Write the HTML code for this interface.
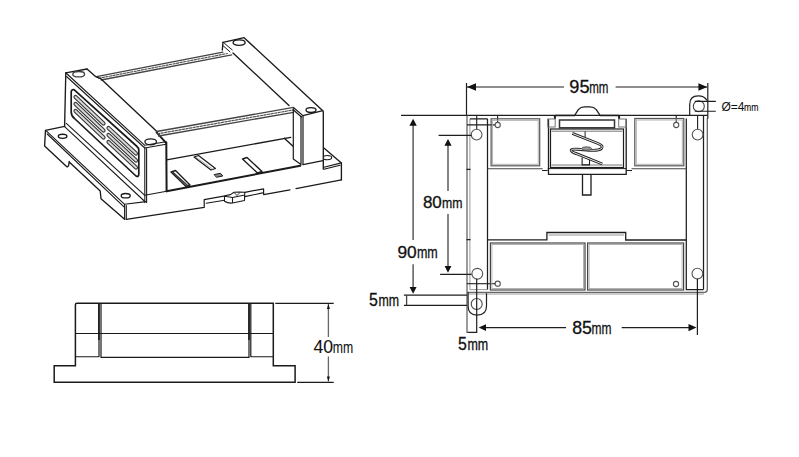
<!DOCTYPE html>
<html><head><meta charset="utf-8">
<style>
html,body{margin:0;padding:0;background:#fff;}
body{width:799px;height:457px;overflow:hidden;}
svg{display:block;}
text{font-family:"Liberation Sans",sans-serif;fill:#111;stroke:#111;stroke-width:0.3;}
</style></head>
<body>
<svg width="799" height="457" viewBox="0 0 799 457">
<rect width="799" height="457" fill="#fff"/>

<!-- ============ ISOMETRIC VIEW ============ -->
<g id="iso" fill="none" stroke="#1a1a1a" stroke-width="1.35" stroke-linejoin="round" stroke-linecap="round">
  <!-- back rail -->
  <path d="M96.5 76.6 L222.9 52.2 M101.1 80 L231.7 54.8" stroke="#444" stroke-width="1.3"/>
  <path d="M98.8 78.3 L227.3 53.5" stroke-width="1.2" stroke-dasharray="2.2 1.4" stroke="#555"/>
  <!-- cap top back edge + lid left edge -->
  <path d="M87 69 L95.8 76.7 L101.1 78.9 L156.6 131.3"/>
  <path d="M156.6 132.3 L165.8 142.6" stroke-width="2"/>
  <!-- front rail -->
  <path d="M156.6 131.5 L293.5 107.4 M158.6 136 L293.5 112.3" stroke="#444" stroke-width="1.3"/>
  <path d="M157.6 133.8 L293.5 109.9" stroke-width="1.2" stroke-dasharray="2.2 1.4" stroke="#555"/>
  <!-- front wall bottom / floor back -->
  <path d="M166.6 159.8 L290.7 137.4 M284.4 138.2 L292.7 146"/>
  <!-- floor front -->
  <path d="M166.6 191.3 L300.3 165.7" stroke-width="2"/>
  <!-- slots in floor -->
  <path d="M194 157 L198.5 155.5 L215.5 168.5 L211 170 Z" stroke-width="1.2"/>
  <path d="M196.5 157.5 L212.5 169" stroke-width="0.8" stroke="#999"/>
  <path d="M242.5 159 L247 157.5 L262 171.5 L257.5 173 Z"/>
  <path d="M171 172 L175.5 170.5 L190 185 L186 186.5 Z"/>
  <path d="M173 172.5 L187.5 185.5" stroke-width="1.6" stroke="#333"/>
  <path d="M214.5 174.5 L220.5 173.3 L222.8 176 L216.8 177.2 Z" fill="#888" stroke-width="1"/>

  <!-- back cap (right) -->
  <path d="M223 42.3 L244.1 37.7 L322.8 110.7 L323.3 111.7 L323.3 169"/>
  <path d="M223 42.3 L222.3 50"/>
  <path d="M224.5 43.4 L232.2 49.9 M222.8 45.5 L230 51.8" stroke-width="1"/>
  <path d="M233 53 L289 105.5"/>
  <path d="M294 108 L303 115.6 L322.8 110.7 M293.5 110 L301.5 117" stroke-width="1.2"/>
  <path d="M293.3 108.7 L293.3 159 L301 164.6 M303 115.6 L303 164.6 M301 116 L301 164" stroke-width="1.2"/>
  <path d="M303 164.6 L323 160.7" stroke-width="1.2"/>
  <ellipse cx="239.1" cy="42.6" rx="6" ry="2.7"/>
  <ellipse cx="311" cy="110" rx="5" ry="2.4"/>

  <!-- base plate right end -->
  <path d="M323.9 148.1 L341.4 162.9 L341.4 179.9"/>
  <path d="M323.9 167.3 L341.4 162.9 M323.9 169.2 L340 165.3" stroke-width="1.1"/>
  <defs><clipPath id="hc"><rect x="324" y="150" width="20" height="15"/></clipPath></defs>
  <ellipse cx="327.4" cy="157.6" rx="4.3" ry="2.1" stroke-width="1.1" clip-path="url(#hc)"/>
  <!-- plate bottom edge -->
  <path d="M126.3 219.3 L204.2 207.4 L204.2 199.6 L223.7 196.2 M244.8 192.3 L263.6 188.8 L263.6 194.6 L290 189.8 M296 188.6 L341.4 179.9" stroke-width="1.2"/>
  <!-- DIN clip block -->
  <path d="M206.2 203.2 L224.5 200.2 M244.8 196.6 L262.6 192.9" stroke-width="1.1"/>
  <path d="M224.5 195.8 L224.5 201.2 Q228 203.5 232.5 203 L244.5 200.5 L244.8 192.3 M224.5 195.8 L230.5 194.6 L234 192.2 L239 192 L244.8 192.3 M224.5 196.2 L232.5 197.5 L244.8 195 M232.5 197.5 L232.5 203" stroke-width="1.1"/>
  <path d="M234.5 193 L237 195.5 L239.5 193" stroke-width="0.9"/>

  <!-- front cap (left) -->
  <path d="M65.8 72.8 L87 69"/>
  <path d="M166.3 142.6 L166.6 191.3" stroke-width="2"/>
  <path d="M66 73 L144.8 145.3 L166 141.8 M66.5 76.5 L144.8 148 L166 144.3" stroke-width="1.1"/>
  <path d="M65.8 72.8 L64.6 126.6"/>
  <path d="M144.8 147 L144.8 202.6 M146.6 148.5 L146.6 202.6" stroke-width="1.1"/>
  <ellipse cx="150.7" cy="141.8" rx="5.8" ry="3"/>
  <ellipse cx="78.7" cy="74.2" rx="5.9" ry="2.7" stroke="#444"/>
  <!-- vent panel -->
  <path d="M74 89.7 Q71.2 89.4 71.2 92.2 L71.2 112 Q71.2 116 74.5 118.5 L136 176 Q138.8 177.5 138.8 174 L138.8 150 Q138.8 148 136.5 146 Z" stroke-width="1.7"/>
  <!-- vent slots -->
  <g stroke-width="4.2" stroke="#333">
    <path d="M75.5 97 L103.5 123.5 M75.5 104 L103.5 130.5 M75.5 111 L103.5 137.5"/>
    <path d="M108.5 128 L136 153.5 M108.5 135 L136 160.5 M108.5 142 L136 167.5"/>
  </g>
  <g stroke-width="2" stroke="#d8d8d8">
    <path d="M75.5 97 L103.5 123.5 M75.5 104 L103.5 130.5 M75.5 111 L103.5 137.5"/>
    <path d="M108.5 128 L136 153.5 M108.5 135 L136 160.5 M108.5 142 L136 167.5"/>
  </g>
  <!-- vent face lower lines -->
  <path d="M64.6 126.6 L144.8 201.5 M66.3 123.3 L144.8 195.3 L166.6 191.3" stroke-width="1.1"/>

  <!-- base plate left end -->
  <path d="M45.5 130.3 L64.6 126.3 M45.5 130.3 L44.6 146 L66 166 Q67.5 167.8 68.6 165.5 L69.2 161.5 M69.5 162.3 L100.2 191 L101 198.8 L124.6 219.3"/>
  <path d="M46.5 131.2 L124.6 204.3 L146 201.6 M47.2 134 L124 206.8" stroke-width="1.1"/>
  <path d="M124.6 204.3 L124.6 219.3 M126.3 205.5 L126.3 219" stroke-width="1.1"/>
  <ellipse cx="62.6" cy="136.3" rx="4.3" ry="2.1"/>
  <ellipse cx="125.7" cy="195.7" rx="4.5" ry="2.2"/>
</g>

<!-- ============ SIDE VIEW ============ -->
<g id="side" fill="none" stroke="#1a1a1a" stroke-width="1.5">
  <path d="M54.2 365.7 L75.4 365.7 L75.4 305 Q75.4 303.3 77 303.3 L273.3 303.3 L273.3 365.7 L295.1 365.7 L295.1 382.3 L54.2 382.3 Z"/>
  <path d="M98.9 303.3 L98.9 340 M249 303.3 L249 340" stroke-width="1.6"/>
  <path d="M101 303.3 L101 357.4 L249 357.4 L249 303.3 M250.8 303.3 L250.8 357 M99 303.3 L99 357" stroke-width="1.2"/>
  <path d="M75.4 356.8 L99 356.8 M250.8 356.8 L273.3 356.8" stroke-width="1.1"/>
  <path d="M75.4 333.5 L273.3 333.5" stroke-width="1.1"/>
  <path d="M275.3 303.3 L333.7 303.3 M297.2 382.3 L333.7 382.3" stroke-width="1.2"/>
  <path d="M328.4 304 L328.4 337 M328.4 356.5 L328.4 381.5" stroke="#666" stroke-width="1.3"/>
  <path d="M328.4 304 L326.9 309 L329.9 309 Z M328.4 381.6 L326.9 376.6 L329.9 376.6 Z" fill="#111" stroke="none"/>
</g>
<text x="313.4" y="352.6" font-size="17.6" style="stroke-width:0.1">40</text>
<text transform="translate(332.7 352.6) scale(0.755 1)" font-size="16.2" style="stroke-width:0.1">mm</text>

<!-- ============ FRONT VIEW ============ -->
<g id="front" fill="none" stroke="#1e1e1e" stroke-width="1.2">
  <!-- body outline -->
  <path d="M401 115.4 L707.8 115.4" stroke-width="1.4"/>
  <path d="M467 115.4 L467 333 M707.3 118 L707.3 289.5 Q707.3 292.3 704.5 292.3 L467 292.3" stroke="#666" stroke-width="1.3"/>
  <path d="M469.9 119 L469.9 289.6 L487.5 289.6 M467 294 L704 294" stroke="#999" stroke-width="1"/>
  <path d="M487.5 118.8 L487.5 289.6 M686.3 118.5 L686.3 289.5 L703.5 289.5 M703.5 115.4 L703.5 289.5 M469.9 118.8 L487.5 118.8" stroke-width="1.25"/>
  <path d="M467 124.9 L495 124.9 M476.7 115.4 L476.7 129.2 M497.6 115.4 L497.6 122.3 M676.2 115.4 L676.2 122.3 M697.6 115.4 L697.6 129.2" stroke-width="1.1"/>
  <g stroke="#555" stroke-width="1.1">
  <circle cx="476.6" cy="134.6" r="5.4"/>
  <circle cx="697.6" cy="134.6" r="5.4"/>
  <circle cx="497.7" cy="125" r="2.6"/>
  <circle cx="676.2" cy="125" r="2.6"/>
  <circle cx="477.3" cy="273.8" r="5.4"/>
  <circle cx="697.4" cy="273.6" r="5.4"/>
  <circle cx="497.7" cy="283.7" r="2.6"/>
  <circle cx="676" cy="284" r="2.6"/>
  </g>
  <path d="M466.8 283.7 L495.1 283.7" stroke-width="1.1"/>
  <path d="M466.5 169.3 L470.5 169.3 M466.5 239.7 L470.5 239.7" stroke-width="1.3"/>

  <!-- top compartments -->
  <g stroke="#555">
  <rect x="491.1" y="118.8" width="48.6" height="47" stroke-width="1.2"/>
  <rect x="492.6" y="120.3" width="45.6" height="44" stroke="#aaa" stroke-width="0.9"/>
  <rect x="634.8" y="118.5" width="49" height="47.3" stroke-width="1.2"/>
  <rect x="636.3" y="120" width="46" height="44.3" stroke="#aaa" stroke-width="0.9"/>
  </g>
  <path d="M487.5 168.8 L542.6 168.8 M631.5 168.8 L686.3 168.8" stroke="#444" stroke-width="1.1"/>

  <!-- mechanism -->
  <path d="M548.5 119 L548.5 174.3 L626.2 174.3 L626.2 119" stroke-width="1.3"/>
  <path d="M554.9 115.5 L574.5 115.5 L578.3 109.6 Q580.8 106.9 584.5 106.9 L590 106.9 Q593.8 106.9 596.3 109.6 L600.2 115.5 L619.1 115.5" stroke-width="1.3"/>
  <path d="M554.9 115.5 L554.9 119 M619.1 115.5 L619.1 119" stroke-width="2"/>
  <rect x="559.5" y="120" width="55" height="7.8" stroke="#333" stroke-width="1.5"/>
  <rect x="550.5" y="129" width="73" height="38.5" stroke-width="1.2"/>
  <path d="M551.5 131.2 L622.5 131.2 M551.5 165 L622.5 165" stroke="#666" stroke-width="0.9"/>
  <path d="M542 170.5 L547.7 170.5 M626.2 170.5 L632 170.5 M547.7 168.6 L626.2 168.6" stroke-width="1"/>
  <rect x="547.7" y="119" width="7.5" height="8" stroke="#777" stroke-width="1"/>
  <rect x="618.7" y="119" width="7.5" height="8" stroke="#777" stroke-width="1"/>
  <path d="M582.5 174.3 L582.5 195 L591 195 L591 174.3" stroke-width="1.3"/>
  <path d="M582.1 157.5 L582.1 164.9 L589.5 164.9 L589.5 157.5" stroke-width="1.1"/>
  <path d="M585.1 131.4 L585.1 137.8" stroke-width="1"/>
  <!-- spring -->
  <path d="M572.3 133.4 L598 143.5 Q604 146 601.5 148.5 Q598.5 150.8 590 150.2 L577 149.2 Q570.5 148.8 571.3 150.8 Q572 152.5 576 153.5 L602.3 164" stroke="#222" stroke-width="2.9"/>
  <path d="M572.3 133.4 L598 143.5 Q604 146 601.5 148.5 Q598.5 150.8 590 150.2 L577 149.2 Q570.5 148.8 571.3 150.8 Q572 152.5 576 153.5 L602.3 164" stroke="#fff" stroke-width="0.9"/>
  <ellipse cx="586.6" cy="148.6" rx="5" ry="1.8" fill="#999" stroke="#444" stroke-width="0.8"/>

  <!-- lower section -->
  <path d="M487.5 239.8 L546.9 239.8 L546.9 232.5 L625.7 232.5 L625.7 240 L686.3 240" stroke-width="1.3"/>
  <path d="M548.5 235 L624 235" stroke="#888" stroke-width="0.9"/>
  <g stroke="#444">
  <rect x="490.4" y="243" width="94.6" height="47" stroke-width="1.2"/>
  <rect x="491.9" y="244.5" width="91.6" height="44" stroke="#aaa" stroke-width="0.9"/>
  <rect x="587.6" y="243" width="96" height="47" stroke-width="1.2"/>
  <rect x="589.1" y="244.5" width="93" height="44" stroke="#aaa" stroke-width="0.9"/>
  </g>

  <!-- ears -->
  <path d="M689.7 115.4 L689.7 104.5 Q689.7 95.8 698.2 95.8 Q704.5 95.8 707 100.5" stroke-width="1.2"/>
  <circle cx="698.8" cy="106.2" r="5.5" stroke="#444" stroke-width="1.1"/>
  <path d="M468.1 292.3 L468.1 306 Q468.1 315.1 477 315.1 Q486.5 315.1 486.5 306 L486.5 293.3" stroke-width="1.2"/>
  <circle cx="476.7" cy="304" r="5.5" stroke="#444" stroke-width="1.1"/>

  <!-- dimension: 95mm -->
  <path d="M466.5 83 L466.5 115.4 M707.8 83 L707.8 118.7 M467 87 L564 87 M615.6 87 L707 87" stroke-width="1.2"/>
  <path d="M467 87 L476 83.3 L476 90.7 Z M707.3 87 L698.4 83.3 L698.4 90.7 Z" fill="#111" stroke="none"/>
  <!-- Ø=4mm -->
  <path d="M694.8 101.4 L715.8 101.4 M694.8 111.3 L715.8 111.3" stroke-width="1.1"/>
  <!-- 90mm -->
  <path d="M413.1 125 L413.1 240 M413.1 264.2 L413.1 288" stroke="#444" stroke-width="1.3"/>
  <path d="M413.1 118.7 L409.4 125.7 L416.8 125.7 Z M413.1 293.8 L409.6 287 L416.6 287 Z" fill="#111" stroke="none"/>
  <!-- 80mm -->
  <path d="M438.6 135.4 L471.5 135.4 M440.1 274.3 L471.5 274.3" stroke-width="1.2"/>
  <path d="M448 145 L448 191 M448 214 L448 266" stroke="#444" stroke-width="1.3"/>
  <path d="M448 138.9 L444.4 145.7 L451.6 145.7 Z M448 272.7 L444.6 266 L451.4 266 Z" fill="#111" stroke="none"/>
  <!-- 5mm left -->
  <path d="M403.9 295.1 L467 295.1 M403.9 305.3 L467 305.3" stroke-width="1.2"/>
  <path d="M406.6 295.1 L406.6 305.3" stroke="#444" stroke-width="1.3"/>
  <!-- 5mm bottom -->
  <path d="M476.7 278.5 L476.7 333 M467.5 332.3 L477.2 332.3" stroke-width="1.2"/>
  <!-- 85mm -->
  <path d="M485 327.6 L566.1 327.6 M621.7 327.6 L690 327.6 M697.4 278.5 L697.4 335" stroke-width="1.2"/>
  <path d="M478.7 327.6 L486 324.2 L486 331 Z M696.5 327.6 L688.5 324 L688.5 331.2 Z" fill="#111" stroke="none"/>
</g>

<!-- front view texts -->
<text x="569.3" y="92.6" font-size="18.2">95</text>
<text transform="translate(589.2 92.6) scale(0.7 1)" font-size="16.5">mm</text>
<text x="422.9" y="207.7" font-size="17">80</text>
<text transform="translate(441.9 207.7) scale(0.82 1)" font-size="15">mm</text>
<text x="397.5" y="258.1" font-size="17.3">90</text>
<text transform="translate(416.9 258.1) scale(0.8 1)" font-size="15.6">mm</text>
<text transform="translate(369 305.7) scale(0.87 1)" font-size="18.3">5</text>
<text transform="translate(378.4 305.7) scale(0.75 1)" font-size="16.5">mm</text>
<text transform="translate(457.9 349.5) scale(0.9 1)" font-size="17.6">5</text>
<text transform="translate(467.4 349.5) scale(0.8 1)" font-size="15.6">mm</text>
<text x="572.2" y="333.8" font-size="17.8">85</text>
<text transform="translate(591.4 333.8) scale(0.72 1)" font-size="16.7">mm</text>
<text x="721.5" y="111" font-size="12" style="stroke-width:0">Ø=4</text>
<text transform="translate(744 111) scale(0.79 1)" font-size="11" style="stroke-width:0.15">mm</text>
</svg>
</body></html>
